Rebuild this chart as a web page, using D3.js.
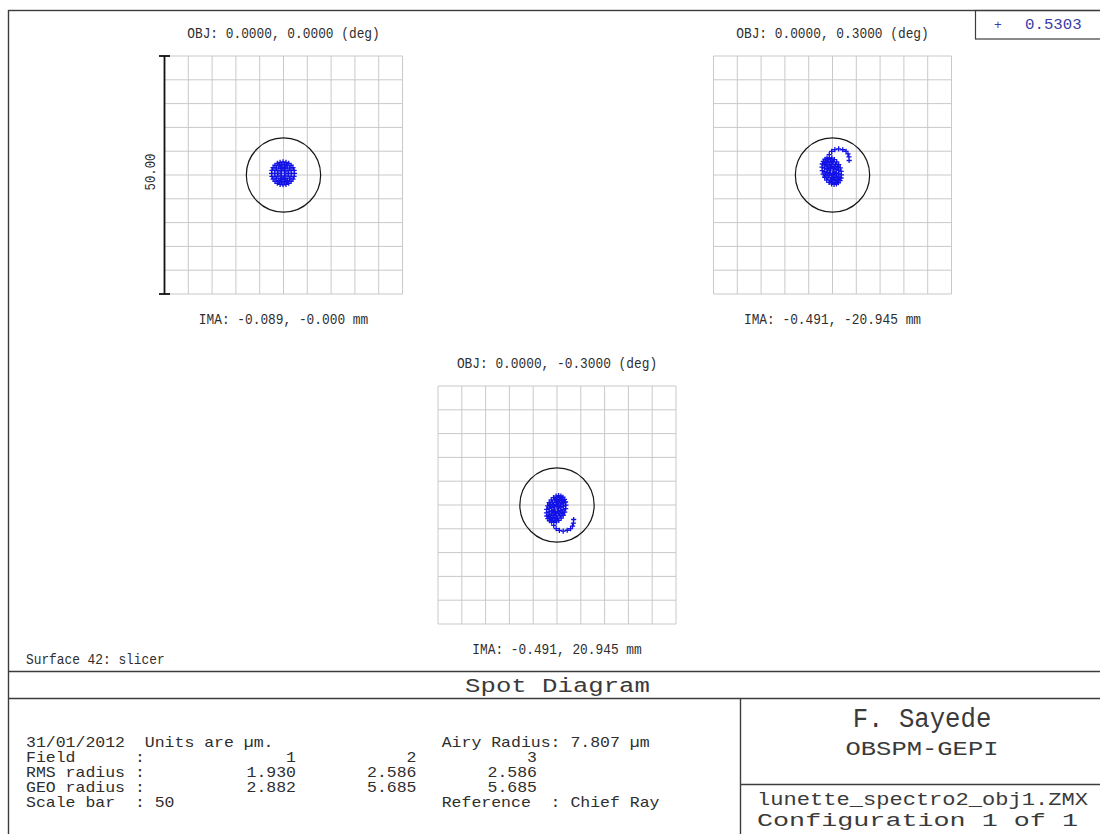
<!DOCTYPE html>
<head>
    <meta charset="utf-8">
    <title>Spot Diagram</title>
    <style>
        body { margin: 0; background: #fff; }
        text { font-family: "Liberation Mono", "DejaVu Sans Mono", monospace; white-space: pre; }
    </style>
</head>
<body>

<script src="https://cdn.jsdelivr.net/npm/d3@7/dist/d3.min.js"></script>

<script>

    // ---- data (units: micrometres) ----
    const fieldNumbers = [1, 2, 3];
    const objLabels = ['OBJ: 0.0000, 0.0000 (deg)', 'OBJ: 0.0000, 0.3000 (deg)', 'OBJ: 0.0000, -0.3000 (deg)'];
    const imaLabels = ['IMA: -0.089, -0.000 mm', 'IMA: -0.491, -20.945 mm', 'IMA: -0.491, 20.945 mm'];
    const rmsRadius = [1.930, 2.586, 2.586];
    const geoRadius = [2.882, 5.685, 5.685];
    const airyRadius = 7.807;
    const scaleBar = 50;
    const wavelengths = [0.5303];

    const spotField1 = [
        [0.5,0.35],[0.2,0.87],[-0.4,0.87],[-0.7,0.35],[-0.4,-0.17],[0.2,-0.17],
        [1.1,0.35],[0.94,0.95],[0.5,1.39],[-0.1,1.55],[-0.7,1.39],[-1.14,0.95],
        [-1.3,0.35],[-1.14,-0.25],[-0.7,-0.69],[-0.1,-0.85],[0.5,-0.69],[0.94,-0.25],
        [1.7,0.35],[1.59,0.97],[1.28,1.51],[0.8,1.91],[0.21,2.12],[-0.41,2.12],
        [-1.0,1.91],[-1.48,1.51],[-1.79,0.97],[-1.9,0.35],[-1.79,-0.27],[-1.48,-0.81],
        [-1.0,-1.21],[-0.41,-1.42],[0.21,-1.42],[0.8,-1.21],[1.28,-0.81],[1.59,-0.27],
        [2.3,0.35],[2.22,0.97],[1.98,1.55],[1.6,2.05],[1.1,2.43],[0.52,2.67],
        [-0.1,2.75],[-0.72,2.67],[-1.3,2.43],[-1.8,2.05],[-2.18,1.55],[-2.42,0.97],
        [-2.5,0.35],[-2.42,-0.27],[-2.18,-0.85],[-1.8,-1.35],[-1.3,-1.73],[-0.72,-1.97],
        [-0.1,-2.05],[0.52,-1.97],[1.1,-1.73],[1.6,-1.35],[1.98,-0.85],[2.22,-0.27]
    ];

    const spotField2 = [
        [-0.42,1.52],[0.09,1.32],[0.34,0.64],[0.08,0.16],[-0.43,0.36],[-0.68,1.04],
        [-0.67,2.20],[-0.15,2.18],[0.36,1.80],[0.72,1.17],[0.85,0.44],[0.71,-0.18],
        [0.33,-0.52],[-0.19,-0.50],[-0.70,-0.12],[-1.06,0.52],[-1.19,1.24],[-1.05,1.86],
        [-0.91,2.89],[-0.41,2.93],[0.12,2.72],[0.62,2.29],[1.02,1.68],[1.28,0.97],
        [1.36,0.24],[1.26,-0.41],[0.99,-0.92],[0.57,-1.21],[0.07,-1.25],[-0.46,-1.04],
        [-0.96,-0.61],[-1.36,0.00],[-1.62,0.72],[-1.70,1.44],[-1.60,2.09],[-1.33,2.60],
        [-1.16,3.57],[-0.67,3.64],[-0.14,3.53],[0.39,3.23],[0.88,2.77],[1.30,2.17],
        [1.62,1.49],[1.81,0.76],[1.87,0.04],[1.79,-0.63],[1.58,-1.20],[1.25,-1.63],
        [0.82,-1.89],[0.33,-1.96],[-0.20,-1.85],[-0.73,-1.55],[-1.22,-1.09],[-1.64,-0.49],
        [-1.96,0.19],[-2.15,0.92],[-2.21,1.64],[-2.13,2.31],[-1.92,2.88],[-1.59,3.31],
        [-0.68,4.3],[-0.17,4.95],[0.5,5.35],[1.3,5.5],[2.15,5.3],[2.85,4.95],
        [3.25,4.45],[3.45,3.8],[3.5,3.05]
    ];

    const spotField3 = [
        [-0.42,-1.52],[0.09,-1.32],[0.34,-0.64],[0.08,-0.16],[-0.43,-0.36],[-0.68,-1.04],
        [-0.67,-2.20],[-0.15,-2.18],[0.36,-1.80],[0.72,-1.17],[0.85,-0.44],[0.71,0.18],
        [0.33,0.52],[-0.19,0.50],[-0.70,0.12],[-1.06,-0.52],[-1.19,-1.24],[-1.05,-1.86],
        [-0.91,-2.89],[-0.41,-2.93],[0.12,-2.72],[0.62,-2.29],[1.02,-1.68],[1.28,-0.97],
        [1.36,-0.24],[1.26,0.41],[0.99,0.92],[0.57,1.21],[0.07,1.25],[-0.46,1.04],
        [-0.96,0.61],[-1.36,0.00],[-1.62,-0.72],[-1.70,-1.44],[-1.60,-2.09],[-1.33,-2.60],
        [-1.16,-3.57],[-0.67,-3.64],[-0.14,-3.53],[0.39,-3.23],[0.88,-2.77],[1.30,-2.17],
        [1.62,-1.49],[1.81,-0.76],[1.87,-0.04],[1.79,0.63],[1.58,1.20],[1.25,1.63],
        [0.82,1.89],[0.33,1.96],[-0.20,1.85],[-0.73,1.55],[-1.22,1.09],[-1.64,0.49],
        [-1.96,-0.19],[-2.15,-0.92],[-2.21,-1.64],[-2.13,-2.31],[-1.92,-2.88],[-1.59,-3.31],
        [-0.68,-4.3],[-0.17,-4.95],[0.5,-5.35],[1.3,-5.5],[2.15,-5.3],[2.85,-4.95],
        [3.25,-4.45],[3.45,-3.8],[3.5,-3.05]
    ];

    const spots = [spotField1, spotField2, spotField3];

    // ---- layout ----
    const width = 1100, height = 834;
    const panelSize = 238;
    const panels = [
        {left: 164.5, top: 56},
        {left: 713.5, top: 56},
        {left: 438, top: 386}
    ];
    const lineColor = '#3c3c3c';
    const textColor = '#2e2e2e';
    const spotColor = '#1212e6';

    const svg = d3.select('body').append('svg')
        .attr('width', width)
        .attr('height', height);

    // monospace text squeezed / stretched to a given character pitch
    function label(g, x, y, str, size, pitch, anchor, color) {
        return g.append('text')
            .attr('x', x)
            .attr('y', y)
            .attr('xml:space', 'preserve')
            .attr('font-size', size)
            .attr('textLength', str.length * pitch)
            .attr('lengthAdjust', 'spacingAndGlyphs')
            .attr('text-anchor', anchor || 'start')
            .attr('fill', color || textColor)
            .text(str);
    }

    // outer frame
    svg.append('rect')
        .attr('x', 8.5).attr('y', 10.5)
        .attr('width', 1096).attr('height', 830)
        .attr('fill', 'none')
        .attr('stroke', lineColor)
        .attr('stroke-width', 1.4);

    // wavelength legend box
    svg.append('rect')
        .attr('x', 975.5).attr('y', 10.5)
        .attr('width', 130).attr('height', 28.5)
        .attr('fill', 'none')
        .attr('stroke', lineColor)
        .attr('stroke-width', 1.2);
    label(svg, 998, 29, '+', 13, 7.8, 'middle', '#3b3ba8');
    label(svg, 1025, 29, wavelengths[0].toFixed(4), 14, 9.45, 'start', '#3b3ba8');

    panels.forEach((p, i) => {
        const x = d3.scaleLinear().domain([-scaleBar / 2, scaleBar / 2]).range([p.left, p.left + panelSize]);
        const y = d3.scaleLinear().domain([-scaleBar / 2, scaleBar / 2]).range([p.top + panelSize, p.top]);
        const g = svg.append('g').attr('class', 'panel field-' + fieldNumbers[i]);

        // grid, every 5 um
        g.selectAll('.vgrid')
            .data(x.ticks(10))
            .enter().append('line')
            .attr('x1', d => x(d)).attr('x2', d => x(d))
            .attr('y1', y(-25)).attr('y2', y(25))
            .attr('stroke', '#c9c9c9')
            .attr('stroke-width', 1);

        g.selectAll('.hgrid')
            .data(y.ticks(10))
            .enter().append('line')
            .attr('y1', d => y(d)).attr('y2', d => y(d))
            .attr('x1', x(-25)).attr('x2', x(25))
            .attr('stroke', '#c9c9c9')
            .attr('stroke-width', 1);

        // airy disc
        g.append('circle')
            .attr('cx', x(0))
            .attr('cy', y(0))
            .attr('r', x(airyRadius) - x(0))
            .attr('fill', 'none')
            .attr('stroke', '#161616')
            .attr('stroke-width', 1.2);

        // ray intercepts
        g.append('path')
            .attr('d', spots[i].map(d => {
                const px = x(d[0]), py = y(d[1]);
                return 'M' + (px - 2.6) + ',' + py + 'h5.2M' + px + ',' + (py - 2.6) + 'v5.2';
            }).join(''))
            .attr('fill', 'none')
            .attr('stroke', spotColor)
            .attr('stroke-width', 1.3);

        label(g, x(0), p.top - 18, objLabels[i], 14, 7.7, 'middle');
        label(g, x(0), p.top + panelSize + 30, imaLabels[i], 14, 7.7, 'middle');

        // scale bar on the first field only
        if (i === 0) {
            const sb = g.append('g').attr('class', 'scalebar');
            sb.append('line')
                .attr('x1', x(-25)).attr('x2', x(-25))
                .attr('y1', y(-25)).attr('y2', y(25))
                .attr('stroke', '#111').attr('stroke-width', 1.8);
            sb.selectAll('.tick')
                .data([-25, 25])
                .enter().append('line')
                .attr('x1', x(-25) - 5.5).attr('x2', x(-25) + 5.5)
                .attr('y1', d => y(d)).attr('y2', d => y(d))
                .attr('stroke', '#111').attr('stroke-width', 1.8);
            label(sb, 0, 0, scaleBar.toFixed(2), 14, 7.4, 'middle')
                .attr('transform', 'translate(155,' + (y(0) - 3) + ') rotate(-90)');
        }
    });

    // ---- title block ----
    label(svg, 26, 664, 'Surface 42: slicer', 14, 7.7, 'start');

    svg.append('line').attr('x1', 8.5).attr('x2', width).attr('y1', 671.5).attr('y2', 671.5)
        .attr('stroke', lineColor).attr('stroke-width', 1.4);
    svg.append('line').attr('x1', 8.5).attr('x2', width).attr('y1', 698.5).attr('y2', 698.5)
        .attr('stroke', lineColor).attr('stroke-width', 1.4);
    svg.append('line').attr('x1', 740.5).attr('x2', 740.5).attr('y1', 698.5).attr('y2', height)
        .attr('stroke', lineColor).attr('stroke-width', 1.4);
    svg.append('line').attr('x1', 740.5).attr('x2', width).attr('y1', 784.5).attr('y2', 784.5)
        .attr('stroke', lineColor).attr('stroke-width', 1.4);

    label(svg, 557.5, 692, 'Spot Diagram', 20, 15.4, 'middle', '#3a3a3a');

    const pitch = 9.9, tableSize = 15;
    const rows = [762, 777, 792, 807];
    const col = d3.scalePoint().domain(fieldNumbers).range([296, 537]);

    label(svg, 26, 747, '31/01/2012  Units are \u00b5m.', tableSize, pitch);
    label(svg, 441.7, 747, 'Airy Radius: ' + airyRadius.toFixed(3) + ' \u00b5m', tableSize, pitch);

    label(svg, 26, rows[0], 'Field      :', tableSize, pitch);
    label(svg, 26, rows[1], 'RMS radius :', tableSize, pitch);
    label(svg, 26, rows[2], 'GEO radius :', tableSize, pitch);
    label(svg, 26, rows[3], 'Scale bar  : ' + scaleBar, tableSize, pitch);
    label(svg, 441.7, rows[3], 'Reference  : Chief Ray', tableSize, pitch);

    fieldNumbers.forEach((f, i) => {
        label(svg, col(f), rows[0], String(f), tableSize, pitch, 'end');
        label(svg, col(f), rows[1], rmsRadius[i].toFixed(3), tableSize, pitch, 'end');
        label(svg, col(f), rows[2], geoRadius[i].toFixed(3), tableSize, pitch, 'end');
    });

    label(svg, 922, 727, 'F. Sayede', 27, 15.4, 'middle', '#3a3a3a');
    label(svg, 922, 755, 'OBSPM-GEPI', 20, 15.3, 'middle', '#3a3a3a');
    label(svg, 757, 805, 'lunette_spectro2_obj1.ZMX', 18, 13.24, 'start', '#3a3a3a');
    label(svg, 757, 826, 'Configuration 1 of 1', 18, 16.05, 'start', '#3a3a3a');

</script>

</body>
